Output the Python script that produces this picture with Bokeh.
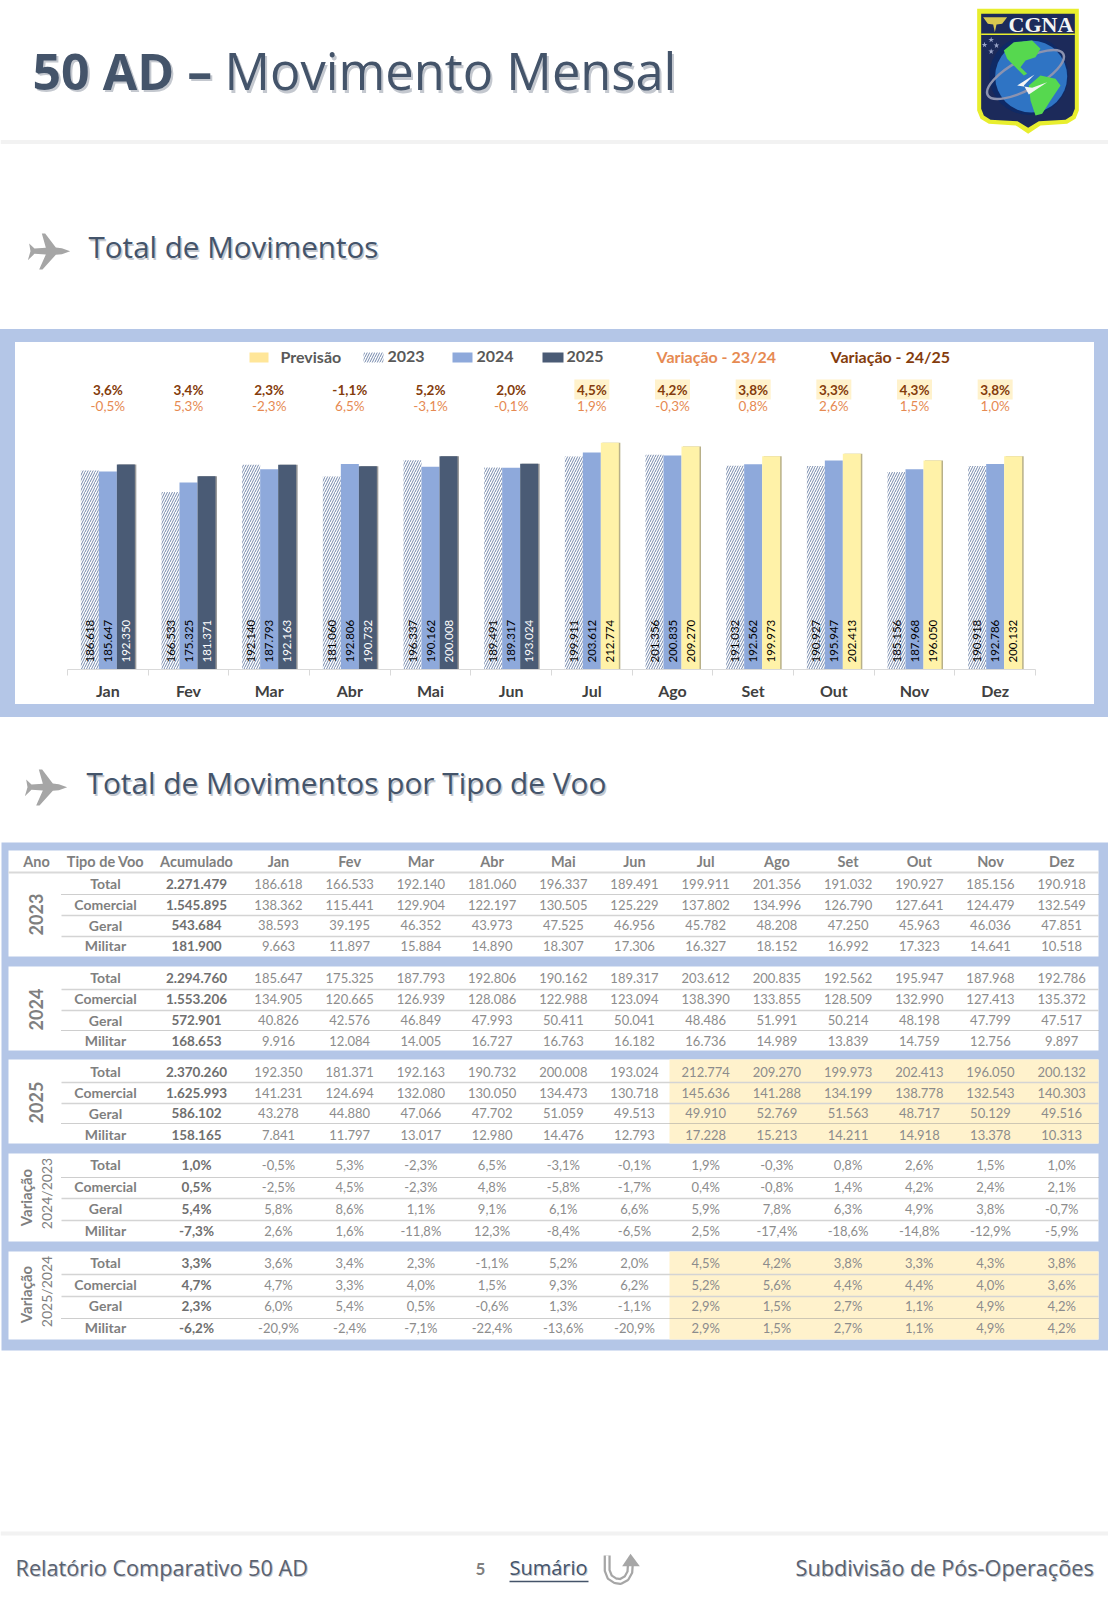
from bokeh.plotting import figure
from bokeh.layouts import column
from bokeh.models import ColumnDataSource, Range1d, FixedTicker
from bokeh.core.properties import value
from bokeh.embed import file_html
from bokeh.resources import INLINE
import math

# ---------------- data ----------------
months = ["Jan", "Fev", "Mar", "Abr", "Mai", "Jun", "Jul", "Ago", "Set", "Out", "Nov", "Dez"]
tipos = ["Total", "Comercial", "Geral", "Militar"]
headers = ["Ano", "Tipo de Voo", "Acumulado"]
n_actual_2025 = 6

total_2023 = [186618, 166533, 192140, 181060, 196337, 189491, 199911, 201356, 191032, 190927, 185156, 190918]
comercial_2023 = [138362, 115441, 129904, 122197, 130505, 125229, 137802, 134996, 126790, 127641, 124479, 132549]
geral_2023 = [38593, 39195, 46352, 43973, 47525, 46956, 45782, 48208, 47250, 45963, 46036, 47851]
militar_2023 = [9663, 11897, 15884, 14890, 18307, 17306, 16327, 18152, 16992, 17323, 14641, 10518]
acum_2023 = [2271479, 1545895, 543684, 181900]

total_2024 = [185647, 175325, 187793, 192806, 190162, 189317, 203612, 200835, 192562, 195947, 187968, 192786]
comercial_2024 = [134905, 120665, 126939, 128086, 122988, 123094, 138390, 133855, 128509, 132990, 127413, 135372]
geral_2024 = [40826, 42576, 46849, 47993, 50411, 50041, 48486, 51991, 50214, 48198, 47799, 47517]
militar_2024 = [9916, 12084, 14005, 16727, 16763, 16182, 16736, 14989, 13839, 14759, 12756, 9897]
acum_2024 = [2294760, 1553206, 572901, 168653]

total_2025 = [192350, 181371, 192163, 190732, 200008, 193024, 212774, 209270, 199973, 202413, 196050, 200132]
comercial_2025 = [141231, 124694, 132080, 130050, 134473, 130718, 145636, 141288, 134199, 138778, 132543, 140303]
geral_2025 = [43278, 44880, 47066, 47702, 51059, 49513, 49910, 52769, 51563, 48717, 50129, 49516]
militar_2025 = [7841, 11797, 13017, 12980, 14476, 12793, 17228, 15213, 14211, 14918, 13378, 10313]
acum_2025 = [2370260, 1625993, 586102, 158165]

var2423_total = [-0.5, 5.3, -2.3, 6.5, -3.1, -0.1, 1.9, -0.3, 0.8, 2.6, 1.5, 1.0]
var2423_comercial = [-2.5, 4.5, -2.3, 4.8, -5.8, -1.7, 0.4, -0.8, 1.4, 4.2, 2.4, 2.1]
var2423_geral = [5.8, 8.6, 1.1, 9.1, 6.1, 6.6, 5.9, 7.8, 6.3, 4.9, 3.8, -0.7]
var2423_militar = [2.6, 1.6, -11.8, 12.3, -8.4, -6.5, 2.5, -17.4, -18.6, -14.8, -12.9, -5.9]
acum_var2423 = [1.0, 0.5, 5.4, -7.3]

var2524_total = [3.6, 3.4, 2.3, -1.1, 5.2, 2.0, 4.5, 4.2, 3.8, 3.3, 4.3, 3.8]
var2524_comercial = [4.7, 3.3, 4.0, 1.5, 9.3, 6.2, 5.2, 5.6, 4.4, 4.4, 4.0, 3.6]
var2524_geral = [6.0, 5.4, 0.5, -0.6, 1.3, -1.1, 2.9, 1.5, 2.7, 1.1, 4.9, 4.2]
var2524_militar = [-20.9, -2.4, -7.1, -22.4, -13.6, -20.9, 2.9, 1.5, 2.7, 1.1, 4.9, 4.2]
acum_var2524 = [3.3, 4.7, 2.3, -6.2]

# ---------------- styling ----------------
FRAME = "#B4C6E7"
C2024 = "#8EA9DB"
C2025 = "#4A5B75"
CFORE = "#FFF2A8"
HATCH = "#7488AB"
BROWN = "#843C0C"
ORANGE = "#E68A52"
GREY = "#7F7F7F"
SLATE = "#44546A"
PALE = "#FFF2CC"
FONT = "Lato"
HEAD = "Open Sans"


def fmt(v):
    return f"{v:,}".replace(",", ".")


def pct(v):
    return f"{v:.1f}%".replace(".", ",")


def put(p, x, y, t, size, color, font=FONT, style="normal", angle=0.0, align="center", **kw):
    xs = x if isinstance(x, list) else [x]
    ys = y if isinstance(y, list) else [y]
    ts = t if isinstance(t, list) else [t]
    src = ColumnDataSource(dict(x=xs, y=ys, t=ts))
    p.text("x", "y", text="t", source=src, text_font=value(font), text_font_size=f"{size}px",
           text_font_style=style, text_color=color, text_align=align, text_baseline="middle",
           angle=angle, **kw)


def page_fig(h, y0):
    p = figure(width=1108, height=h, x_range=Range1d(0, 1108), y_range=Range1d(y0 + h, y0),
               output_backend="svg", toolbar_location=None, min_border=0)
    p.axis.visible = False
    p.grid.visible = False
    p.outline_line_color = None
    p.background_fill_color = "white"
    return p


PLANE_X = [155, 130, 112, 80, 70, 82, 48, 32, 36, 28, 48, 82, 62, 72, 112, 130]
PLANE_Y = [95, 86, 84, 42, 42, 85, 87, 72, 95, 122, 103, 105, 150, 150, 106, 104]


def plane(p, ox, oy):
    p.patch([ox + a / 3 for a in PLANE_X], [oy + b / 3 for b in PLANE_Y], fill_color="#A6A6A6", line_color=None)


def title(p, x, y, t, size, color, style="normal", shadow=(1.5, 2)):
    put(p, x + shadow[0], y + shadow[1], t, size, "#C4C8CF", font=HEAD, style=style, align="left")
    put(p, x, y, t, size, color, font=HEAD, style=style, align="left")


# ---------------- header ----------------
head = page_fig(329, 0)
head.quad(left=0, right=1108, top=139.5, bottom=143.5, fill_color="#F2F2F2", line_color=None)
title(head, 32, 70, "50 AD –", 50, SLATE, style="bold", shadow=(2, 2.5))
title(head, 224, 70, "Movimento Mensal", 50.6, SLATE, shadow=(2, 2.5))
plane(head, 18, 219)
title(head, 88, 246, "Total de Movimentos", 29.6, SLATE)


# logo
def lx(v):
    return [960 + a / 3 for a in v]


def ly(v):
    return [b / 3 for b in v]


SHIELD_X = [50, 355, 355, 345, 320, 240, 203, 166, 85, 60, 50]
SHIELD_Y = [25, 25, 330, 355, 370, 375, 400, 375, 370, 355, 330]
INNER_X = [62, 343, 343, 335, 315, 235, 203, 171, 90, 70, 62]
INNER_Y = [40, 40, 325, 345, 358, 362, 382, 362, 358, 345, 325]
head.patch(lx(SHIELD_X), ly(SHIELD_Y), fill_color="#E8EE2E", line_color=None)
head.patch(lx(INNER_X), ly(INNER_Y), fill_color="#1C2A5A", line_color=None)
head.segment(lx([62]), ly([101]), lx([343]), ly([101]), line_color="#E8EE2E", line_width=1.5)
head.patch(lx([68, 140, 125, 108, 103, 98, 82]), ly([50, 50, 70, 72, 95, 72, 70]), fill_color="#D8C850", line_color=None)
put(head, 1040.5, 23.5, "CGNA", 22, "#F4F4F4", font="Liberation Serif", style="bold")
head.circle(lx([205]), ly([225]), radius=39.5, fill_color="#0F2A66", line_color=None)
head.circle(lx([212]), ly([228]), radius=36, fill_color="#2F74C4", line_color=None)
head.ellipse(lx([195]), ly([222]), width=86, height=30, angle=0.5, fill_color=None, line_color="#8C93B0", line_width=2.5)
head.patch(lx([130, 160, 215, 240, 225, 195, 180, 200, 190, 160, 140]),
           ly([150, 125, 120, 145, 170, 180, 200, 220, 225, 195, 175]), fill_color="#56D84F", line_color=None)
head.patch(lx([205, 240, 285, 300, 270, 245, 225, 210]),
           ly([255, 225, 235, 255, 300, 340, 345, 300]), fill_color="#56D84F", line_color=None)
head.patch(lx([170, 222, 190, 205, 260, 215]), ly([255, 222, 255, 282, 245, 262]), fill_color="#F4F4F4", line_color=None)
head.scatter(lx([92, 72, 108, 92]), ly([118, 133, 135, 153]), marker="star", size=6, fill_color="#9AA4C8", line_color=None)

# ---------------- bar chart ----------------
K = 0.001066            # pixels per movement
SLOT = 968 / 12
BW = 18 / SLOT
TOP = 327 / K

p = figure(width=1079, height=362, x_range=Range1d(0, 12), y_range=Range1d(0, TOP),
           output_backend="svg", toolbar_location=None,
           min_border_left=52, min_border_right=59, min_border_top=0, min_border_bottom=35)
p.yaxis.visible = False
p.grid.visible = False
p.outline_line_color = None
p.background_fill_color = "white"
p.border_fill_color = "white"
p.styles = {"background-color": "white"}
p.extra_x_ranges["px"] = Range1d(67, 1035)
p.extra_y_ranges["py"] = Range1d(669, 342)

centers = [i + 0.5 for i in range(12)]
ax = p.xaxis[0]
ax.ticker = FixedTicker(ticks=centers, minor_ticks=list(range(13)))
ax.major_label_overrides = dict(zip(centers, months))
ax.axis_line_color = "#D9D9D9"
ax.major_tick_line_color = None
ax.minor_tick_line_color = "#D9D9D9"
ax.minor_tick_in = 0
ax.minor_tick_out = 6
ax.major_label_standoff = 5
ax.major_label_text_font = FONT
ax.major_label_text_font_style = "bold"
ax.major_label_text_font_size = "16px"
ax.major_label_text_color = "#404040"

is_fore = [i >= n_actual_2025 for i in range(12)]
src = ColumnDataSource(dict(
    x=centers, x23=[c - BW for c in centers], x25=[c + BW for c in centers],
    xs=[c + BW + 1.5 / SLOT for c in centers],
    y23=total_2023, y24=total_2024, y25=total_2025,
    l23=[fmt(v) for v in total_2023], l24=[fmt(v) for v in total_2024], l25=[fmt(v) for v in total_2025],
    c25=[CFORE if f else C2025 for f in is_fore], t25=["black" if f else "white" for f in is_fore],
    s25=["#B8B089" if f else "#9A9A9A" for f in is_fore],
    r1=[pct(v) for v in var2524_total], r2=[pct(v) for v in var2423_total]))

# shadow, bars
p.vbar(x="xs", top="y25", width=BW, bottom=0, source=src, fill_color="s25", line_color=None)
p.vbar(x="x23", top="y23", width=BW, bottom=0, source=src,
       fill_color="white", line_color=None, hatch_pattern="right_diagonal_line", hatch_color=HATCH,
       hatch_scale=5, hatch_weight=1)
p.vbar(x="x", top="y24", width=BW, bottom=0, source=src, fill_color=C2024, line_color=None)
p.vbar(x="x25", top="y25", width=BW, bottom=0, source=src, fill_color="c25", line_color=None)

LAB = 7 / K
for xc, col, tcol in [("x23", "l23", value("black")), ("x", "l24", value("black")), ("x25", "l25", {"field": "t25"})]:
    p.text(x=xc, y=LAB, text=col, source=src, angle=math.pi / 2,
           text_align="left", text_baseline="middle", text_font=value(FONT), text_font_size="11.5px",
           text_color=tcol)

# percent rows
p.rect(x="x", y=389, width=35 / SLOT, height=20, source=ColumnDataSource(dict(
    x=centers[n_actual_2025:])), fill_color=PALE, line_color=None, y_range_name="py")
p.text(x="x", y=389.5, text="r1", source=src, y_range_name="py", text_align="center", text_baseline="middle",
       text_font=value(FONT), text_font_size="13.5px", text_font_style="bold", text_color=BROWN)
p.text(x="x", y=405.5, text="r2", source=src, y_range_name="py", text_align="center", text_baseline="middle",
       text_font=value(FONT), text_font_size="13.5px", text_color=ORANGE)

# legend


def ltext(x, t, color, size=16):
    p.text(x=[x], y=[356], text=[t], x_range_name="px", y_range_name="py", text_align="left", text_baseline="middle",
           text_font=value(FONT), text_font_size=f"{size}px", text_font_style="bold", text_color=color)


def swatch(x0, x1, color, **kw):
    p.quad(left=[x0], right=[x1], top=[352], bottom=[362], fill_color=color, line_color=None,
           x_range_name="px", y_range_name="py", **kw)


swatch(249, 268, "#FFE699")
ltext(280, "Previsão", "#595959")
swatch(363, 383, "white", hatch_pattern="right_diagonal_line", hatch_color=HATCH, hatch_scale=5, hatch_weight=1)
ltext(387, "2023", "#595959")
swatch(452, 472, C2024)
ltext(476, "2024", "#595959")
swatch(542, 563, C2025)
ltext(566, "2025", "#595959")
ltext(656, "Variação - 23/24", ORANGE)
ltext(830, "Variação - 24/25", BROWN)

p.margin = (13, 14, 13, 15)
chart = column(p, width=1108, height=388, spacing=0, styles={"background-color": FRAME})

# ---------------- table + footer ----------------
b = page_fig(883, 717)
b.quad(left=1, right=1108, top=842, bottom=1350, fill_color=FRAME, line_color=None)
panels = [(850, 956), (966, 1050), (1059, 1143), (1153, 1241), (1251, 1339)]
b.quad(left=[8] * 5, right=[1098] * 5, top=[a for a, _ in panels], bottom=[c for _, c in panels],
       fill_color="white", line_color=None)
b.quad(left=[669, 669], right=[1098, 1098], top=[1059, 1251], bottom=[1143, 1339], fill_color=PALE, line_color=None)
plane(b, 15, 755)
title(b, 86, 782, "Total de Movimentos por Tipo de Voo", 29.8, SLATE)

XCOL = [278 + 71.2 * i for i in range(12)]
put(b, [36, 105, 196] + XCOL, [861] * 15, headers + months, 14.5, GREY, style="bold")
b.segment([8], [872], [1098], [872], line_color="#D9D9D9", line_width=2)

rows = [
    ([883, 904, 924.5, 945], [894, 915, 936], [True, False, False],
     [total_2023, comercial_2023, geral_2023, militar_2023], acum_2023, fmt),
    ([977, 998, 1019.5, 1040], [989, 1010, 1030], [False, False, True],
     [total_2024, comercial_2024, geral_2024, militar_2024], acum_2024, fmt),
    ([1071, 1092, 1112.5, 1134], [1082, 1103, 1123], [False, False, True],
     [total_2025, comercial_2025, geral_2025, militar_2025], acum_2025, fmt),
    ([1164, 1186, 1208, 1230], [1177, 1198, 1220], [True, False, False],
     [var2423_total, var2423_comercial, var2423_geral, var2423_militar], acum_var2423, pct),
    ([1262, 1284, 1305, 1327], [1274, 1296, 1318], [False, False, True],
     [var2524_total, var2524_comercial, var2524_geral, var2524_militar], acum_var2524, pct),
]
for ys, lines, dotted, series, acum, f in rows:
    for ly_, d in zip(lines, dotted):
        b.segment([61], [ly_], [1098], [ly_], line_color="#9C9C9C" if d else "#D4D4D4",
                  line_width=1 if d else 1.5, line_dash="1 1" if d else "solid")
    put(b, [105] * 4, ys, tipos, 14, GREY, style="bold")
    put(b, [196] * 4, ys, [f(v) for v in acum], 13.5, "#6F6F6F", style="bold")
    for y, s in zip(ys, series):
        put(b, XCOL, [y] * 12, [f(v) for v in s], 13, "#8C8C8C")

put(b, 35, 914, "2023", 18, GREY, style="bold", angle=math.pi / 2)
put(b, 35, 1009, "2024", 18, GREY, style="bold", angle=math.pi / 2)
put(b, 35, 1102, "2025", 18, GREY, style="bold", angle=math.pi / 2)
put(b, 25, 1197, "Variação", 15, GREY, style="bold", angle=math.pi / 2)
put(b, 46, 1193, "2024/2023", 14, GREY, angle=math.pi / 2)
put(b, 25, 1294, "Variação", 15, GREY, style="bold", angle=math.pi / 2)
put(b, 46, 1291, "2025/2024", 14, GREY, angle=math.pi / 2)

# footer
b.quad(left=0, right=1108, top=1531, bottom=1535, fill_color="#F2F2F2", line_color=None)
FS = 21.7
title(b, 15, 1567, "Relatório Comparativo 50 AD", FS, "#5A6270", shadow=(1, 1))
title(b, 795, 1567, "Subdivisão de Pós-Operações", FS, "#5A6270", shadow=(1, 1))
put(b, 480, 1568, "5", 17, GREY, style="bold")
title(b, 509, 1567, "Sumário", 20, SLATE, shadow=(1, 1))
b.segment([509], [1581], [588], [1581], line_color=SLATE, line_width=1.3)
ux = [590 + a / 3 for a in [50, 50, 58, 75, 90, 108, 118, 120]]
uy = [1545 + c / 3 for c in [30, 75, 95, 106, 108, 98, 80, 50]]
b.line(ux, uy, line_color="#A6A6A6", line_width=7, line_join="round")
b.line(ux, uy, line_color="white", line_width=2.5, line_join="round")
b.patch([590 + a / 3 for a in [120, 148, 95]], [1545 + c / 3 for c in [25, 62, 62]],
        fill_color="#A6A6A6", line_color=None)

page = column(head, chart, b, width=1108, height=1600, spacing=0)
open("out.html", "w").write(file_html(page, INLINE))
